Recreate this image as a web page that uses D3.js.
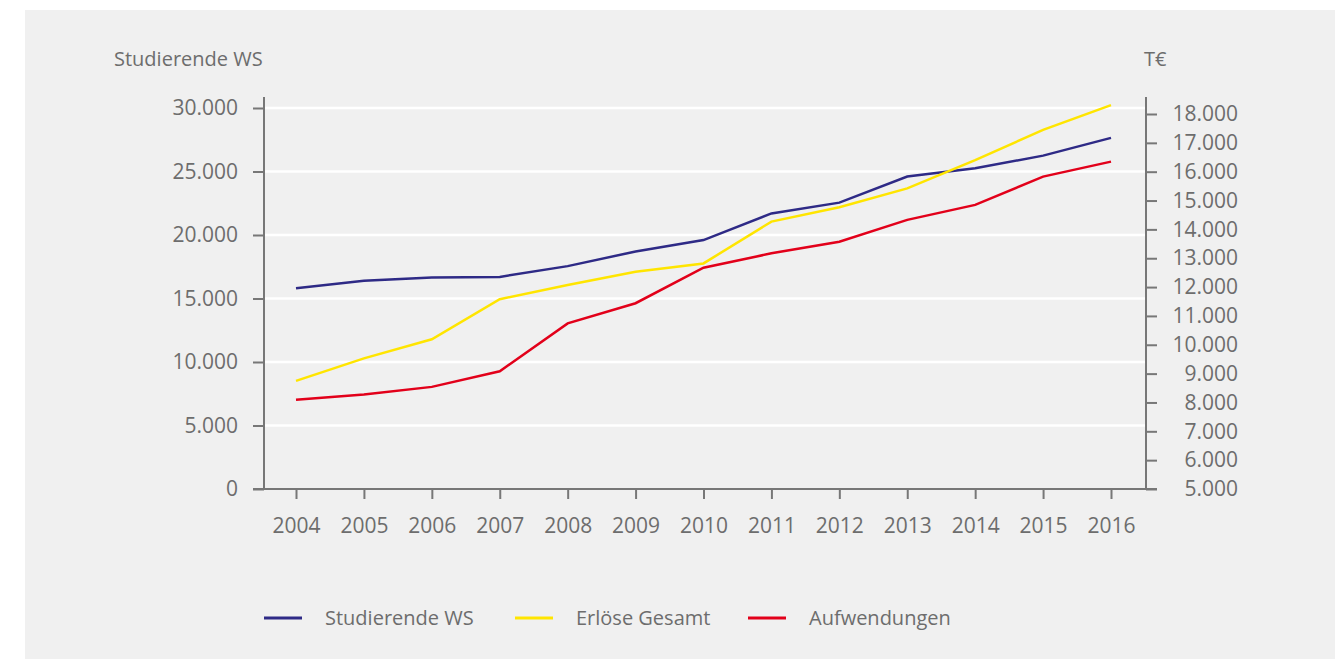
<meta charset="utf-8">
<style>
  body { margin: 0; background: #fff; }
  text { font-family: "Open Sans", sans-serif; fill: #6d6d6d; }
</style>
<svg width="1335" height="659"></svg>
<script src="https://d3js.org/d3.v7.min.js"></script>
<script>
// chart values
var years = ["2004", "2005", "2006", "2007", "2008", "2009", "2010", "2011", "2012", "2013", "2014", "2015", "2016"];
var studierende = [15800, 16400, 16650, 16700, 17550, 18700, 19600, 21700, 22550, 24600, 25250, 26250, 27650];
var erloese = [8750, 9530, 10190, 11580, 12070, 12530, 12820, 14270, 14770, 15420, 16400, 17450, 18310];
var aufwendungen = [8090, 8280, 8540, 9080, 10740, 11440, 12670, 13170, 13570, 14330, 14850, 15830, 16350];
var leftTicks = [0, 5000, 10000, 15000, 20000, 25000, 30000];
var rightTicks = [5000, 6000, 7000, 8000, 9000, 10000, 11000, 12000, 13000, 14000, 15000, 16000, 17000, 18000];
var seriesNames = ["Studierende WS", "Erlöse Gesamt", "Aufwendungen"];
var seriesColors = ["#2e2a86", "#ffe500", "#e2001a"];

var de = d3.formatLocale({decimal: ",", thousands: ".", grouping: [3], currency: ["", " €"]});
var fmt = de.format(",.0f");

var svg = d3.select("svg");
var axisColor = "#777";

// grey panel
svg.append("rect")
    .attr("x", 25).attr("y", 10)
    .attr("width", 1310).attr("height", 649)
    .attr("fill", "#f0f0f0");

var x = d3.scalePoint().domain(years).range([296, 1111]);
var yL = d3.scaleLinear().domain([0, 30000]).range([489, 108]);
var yR = d3.scaleLinear().domain([5000, 18000]).range([489, 114]);

// white gridlines from left axis
svg.append("g")
  .selectAll("line")
  .data(leftTicks.filter(function(d) { return d > 0; }))
  .enter().append("line")
    .attr("x1", 264).attr("x2", 1146)
    .attr("y1", function(d) { return yL(d); })
    .attr("y2", function(d) { return yL(d); })
    .attr("stroke", "#fff")
    .attr("stroke-width", 2.5);

// left axis
var gL = svg.append("g")
    .attr("transform", "translate(264,0)")
    .call(d3.axisLeft(yL).tickValues(leftTicks).tickFormat(fmt).tickSize(11).tickPadding(15));
gL.select(".domain").remove();

// right axis
var gR = svg.append("g")
    .attr("transform", "translate(1146,0)")
    .call(d3.axisRight(yR).tickValues(rightTicks).tickFormat(fmt).tickSize(11));
gR.select(".domain").remove();
gR.selectAll("text").attr("x", 92).attr("text-anchor", "end");

// bottom axis
var gB = svg.append("g")
    .attr("transform", "translate(0,489)")
    .call(d3.axisBottom(x).tickSize(10).tickPadding(19));
gB.select(".domain").remove();

svg.selectAll(".tick line").attr("stroke", axisColor).attr("stroke-width", 2);
svg.selectAll(".tick text")
    .attr("fill", "#6d6d6d")
    .style("font-family", "'Open Sans', sans-serif")
    .style("font-size", "21px");

// axis lines
svg.append("line").attr("x1", 264).attr("x2", 264).attr("y1", 97).attr("y2", 490)
    .attr("stroke", axisColor).attr("stroke-width", 2);
svg.append("line").attr("x1", 1146).attr("x2", 1146).attr("y1", 97).attr("y2", 490)
    .attr("stroke", axisColor).attr("stroke-width", 2);
svg.append("line").attr("x1", 253).attr("x2", 1157).attr("y1", 489).attr("y2", 489)
    .attr("stroke", axisColor).attr("stroke-width", 2);

// axis titles
svg.append("text").attr("x", 114).attr("y", 66)
    .style("font-size", "20px").text("Studierende WS");
svg.append("text").attr("x", 1144).attr("y", 66)
    .style("font-size", "20px").text("T€");

// lines
var series = [
  {values: studierende, y: yL},
  {values: erloese, y: yR},
  {values: aufwendungen, y: yR}
];

series.forEach(function(s, i) {
  var line = d3.line()
      .x(function(d, j) { return x(years[j]); })
      .y(function(d) { return s.y(d); });
  svg.append("path")
      .datum(s.values)
      .attr("d", line)
      .attr("fill", "none")
      .attr("stroke", seriesColors[i])
      .attr("stroke-width", 2.5);
});

// legend
var legendX = [264, 515, 748];
var legend = svg.append("g")
  .selectAll("g")
  .data(seriesNames)
  .enter().append("g")
    .attr("transform", function(d, i) { return "translate(" + legendX[i] + ",618)"; });

legend.append("line")
    .attr("x1", 0).attr("x2", 38)
    .attr("stroke", function(d, i) { return seriesColors[i]; })
    .attr("stroke-width", 3);

legend.append("text")
    .attr("x", 61).attr("y", 7)
    .style("font-size", "20px")
    .text(function(d) { return d; });
</script>
